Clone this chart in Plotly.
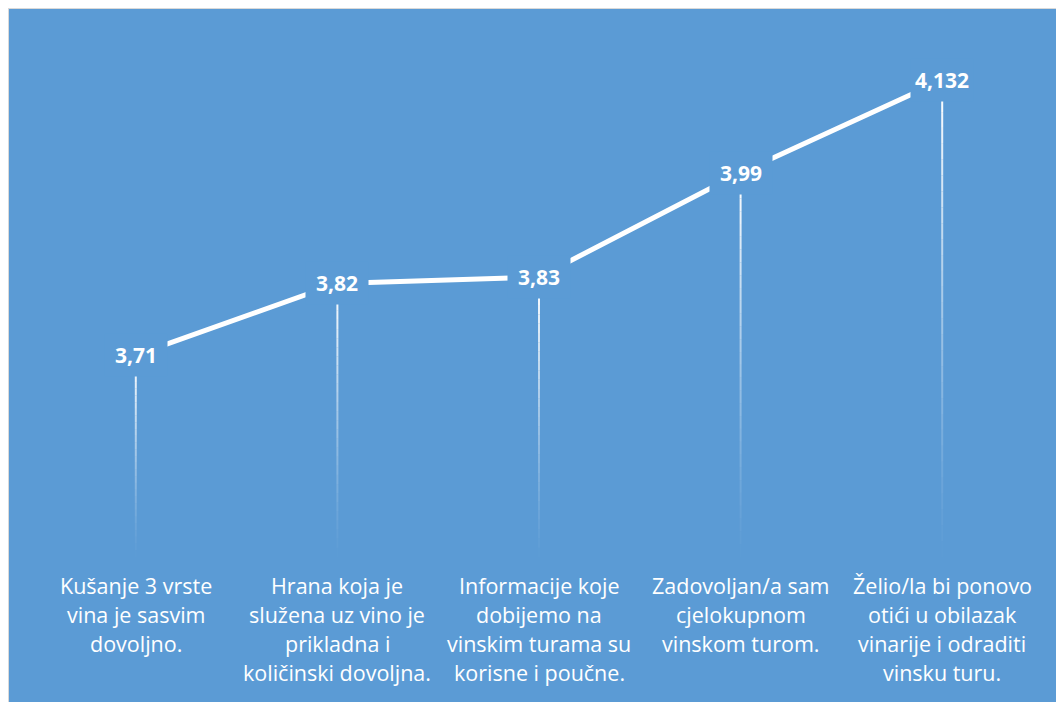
import plotly.graph_objects as go

# survey statements (one list entry per wrapped line)
categories = [
    ["Kušanje 3 vrste", "vina je sasvim", "dovoljno."],
    ["Hrana koja je", "služena uz vino je", "prikladna i", "količinski dovoljna."],
    ["Informacije koje", "dobijemo na", "vinskim turama su", "korisne i poučne."],
    ["Zadovoljan/a sam", "cjelokupnom", "vinskom turom."],
    ["Želio/la bi ponovo", "otići u obilazak", "vinarije i odraditi", "vinsku turu."],
]
values = [3.71, 3.82, 3.83, 3.99, 4.132]
value_labels = ["3,71", "3,82", "3,83", "3,99", "4,132"]
y_min, y_max = 3.4, 4.2

BG = "#5B9BD5"
# page body has an 8px margin, so the figure is sized to fit inside it
W, H = 1060, 694
L, R, T, B = 27, 25, 28, 145
pw, ph = W - L - R, H - T - B

x = list(range(len(values)))

fig = go.Figure()

# main line
fig.add_trace(go.Scatter(
    x=x, y=values, mode="lines",
    line=dict(color="white", width=5),
    hoverinfo="skip", showlegend=False,
))

# framed blue background
shapes = [dict(
    type="rect", xref="paper", yref="paper", layer="below",
    x0=(0 - L) / pw, x1=(W + 10 - L) / pw,
    y0=-(H + 10 - T - ph) / ph, y1=1 + T / ph,
    fillcolor=BG, line=dict(color="#D9D9D9", width=2),
)]

# drop lines fading towards the axis
n_seg = 30
for xi, v in zip(x, values):
    step = (v - y_min) / n_seg
    for k in range(n_seg):
        a = (k + 1) / n_seg
        shapes.append(dict(
            type="line", xref="x", yref="y",
            x0=xi, x1=xi, y0=y_min + k * step, y1=y_min + (k + 1) * step,
            line=dict(color=f"rgba(255,255,255,{a ** 1.3:.3f})", width=2),
            layer="below",
        ))

annotations = []
# value labels (boxed in background colour so the line stops short)
for xi, v, t in zip(x, values, value_labels):
    annotations.append(dict(
        x=xi, y=v, xref="x", yref="y", text=f"<b>{t}</b>",
        showarrow=False, width=60, height=40, bgcolor=BG,
        font=dict(family="Open Sans", size=21, color="white"),
    ))

# category labels under the axis
for xi, lines in zip(x, categories):
    for i, ln in enumerate(lines):
        annotations.append(dict(
            x=xi, y=0, xref="x", yref="paper", text=ln,
            showarrow=False, yanchor="middle", yshift=-(28 + 29 * i),
            font=dict(family="Open Sans", size=21.5, color="white"),
        ))

fig.update_layout(
    width=W, height=H,
    margin=dict(l=L, r=R, t=T, b=B),
    paper_bgcolor="white",
    plot_bgcolor="rgba(0,0,0,0)",
    xaxis=dict(range=[-0.5, 4.5], visible=False, fixedrange=True),
    yaxis=dict(range=[y_min, y_max], visible=False, fixedrange=True),
    shapes=shapes,
    annotations=annotations,
    showlegend=False,
)

fig.write_html("out.html")
